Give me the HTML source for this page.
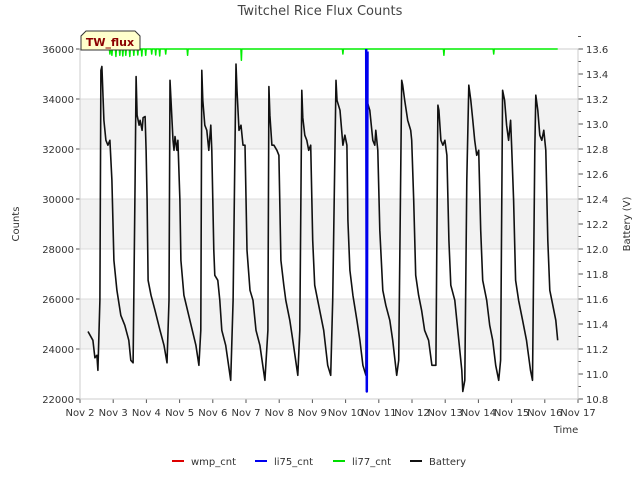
<!DOCTYPE html>
<html><head><meta charset="utf-8"><style>
body{margin:0;background:#fff;font-family:"Liberation Sans","DejaVu Sans",sans-serif}
svg text{font-family:"DejaVu Sans","Liberation Sans",sans-serif}
</style></head><body>
<svg id="c" width="640" height="480" viewBox="0 0 640 480" xmlns="http://www.w3.org/2000/svg"></svg>
<script>
const xTicks=[2,3,4,5,6,7,8,9,10,11,12,13,14,15,16,17];
const xLabels=["Nov 2","Nov 3","Nov 4","Nov 5","Nov 6","Nov 7","Nov 8","Nov 9","Nov 10","Nov 11","Nov 12","Nov 13","Nov 14","Nov 15","Nov 16","Nov 17"];
const leftTicks=[22000,24000,26000,28000,30000,32000,34000,36000];
const rightTicks=[10.8,11.0,11.2,11.4,11.6,11.8,12.0,12.2,12.4,12.6,12.8,13.0,13.2,13.4,13.6];
const batDays=[2.24,2.39,2.45,2.51,2.54,2.60,2.63,2.66,2.72,2.78,2.84,2.90,2.96,3.02,3.11,3.23,3.35,3.47,3.53,3.60,3.66,3.69,
3.72,3.78,3.81,3.87,3.90,3.96,3.99,4.02,4.05,4.14,4.26,4.41,4.53,4.62,4.68,4.71,
4.74,4.80,4.83,4.86,4.92,4.95,5.01,5.04,5.13,5.31,5.49,5.58,5.64,5.67,
5.70,5.76,5.82,5.88,5.94,5.97,6.03,6.06,6.15,6.21,6.27,6.39,6.54,6.61,6.70,
6.73,6.79,6.85,6.91,6.97,7.03,7.12,7.21,7.30,7.42,7.57,7.66,7.69,
7.72,7.78,7.84,7.93,7.99,8.05,8.14,8.20,8.32,8.41,8.56,8.62,8.68,
8.71,8.77,8.83,8.89,8.95,9.01,9.07,9.16,9.25,9.34,9.46,9.55,9.61,9.71,
9.74,9.83,9.92,9.98,10.04,10.07,10.13,10.22,10.34,10.43,10.52,10.61,10.64,
10.73,10.82,10.88,10.91,10.97,11.03,11.12,11.21,11.33,11.42,11.54,11.60,11.69,
11.72,11.78,11.87,11.96,11.99,12.05,12.11,12.20,12.29,12.38,12.50,12.60,12.72,12.78,
12.81,12.87,12.93,12.99,13.05,13.11,13.17,13.29,13.38,13.44,13.50,13.53,13.59,13.65,13.71,
13.77,13.83,13.89,13.95,14.01,14.07,14.13,14.25,14.34,14.43,14.52,14.61,14.67,14.73,
14.79,14.85,14.91,14.97,15.00,15.06,15.12,15.21,15.33,15.45,15.57,15.63,15.70,15.73,
15.79,15.85,15.91,15.97,16.03,16.09,16.15,16.24,16.33,16.39];
const batVolts=[11.34,11.27,11.13,11.15,11.03,11.59,13.43,13.46,13.03,12.87,12.83,12.87,12.55,11.91,11.67,11.47,11.39,11.27,11.11,11.09,12.55,13.38,
13.07,12.99,13.03,12.95,13.05,13.06,12.79,12.39,11.75,11.63,11.51,11.35,11.23,11.09,11.59,13.35,
13.19,12.87,12.79,12.90,12.79,12.87,12.39,11.91,11.63,11.43,11.23,11.07,11.35,13.43,
13.19,12.99,12.95,12.79,12.99,12.79,11.99,11.79,11.75,11.59,11.35,11.23,10.95,11.59,13.48,
13.27,12.95,12.99,12.83,12.83,11.99,11.67,11.59,11.35,11.23,10.95,11.35,13.30,
13.07,12.83,12.83,12.79,12.75,11.91,11.71,11.59,11.43,11.27,10.99,11.35,13.27,
13.05,12.91,12.87,12.79,12.83,12.07,11.71,11.59,11.47,11.35,11.07,10.99,11.59,13.35,
13.19,13.11,12.83,12.91,12.83,12.23,11.83,11.63,11.43,11.27,11.07,10.99,13.19,
13.11,12.87,12.83,12.95,12.79,12.15,11.67,11.55,11.43,11.27,10.99,11.11,13.35,
13.31,13.19,13.03,12.95,12.87,12.39,11.79,11.63,11.51,11.35,11.27,11.07,11.07,13.15,
13.11,12.87,12.83,12.87,12.75,12.07,11.71,11.59,11.35,11.19,11.03,10.86,10.95,12.55,13.31,
13.19,13.03,12.87,12.75,12.79,12.15,11.75,11.59,11.39,11.27,11.07,10.95,11.11,13.27,
13.19,12.99,12.87,13.03,12.83,12.39,11.75,11.59,11.43,11.27,11.03,10.95,12.79,13.23,
13.11,12.91,12.87,12.95,12.79,12.07,11.67,11.55,11.43,11.27];
const li77DipDays=[2.90,2.96,3.08,3.20,3.29,3.38,3.50,3.62,3.74,3.86,3.98,4.16,4.28,4.40,4.58,5.24,6.86,9.92,12.96,14.46];
const li77DipVals=[35800,35750,35700,35750,35720,35750,35700,35750,35760,35720,35750,35800,35760,35720,35800,35750,35550,35800,35750,35800];
const li77Start=2.84, li77End=16.39, li77Base=36000;
const li75Days=[10.62,10.64,10.66];
const li75Vals=[36000,22300,35900];

const NS="http://www.w3.org/2000/svg";
const svg=document.getElementById('c');
const X0=80,X1=578,YT=49,YB=399;
const xs=d=>X0+(d-2)/(17-2)*(X1-X0);
const yl=v=>YB-(v-22000)/(36000-22000)*(YB-YT);
const yr=v=>YB-(v-10.8)/(13.6-10.8)*(YB-YT);
function el(t,a,p){const e=document.createElementNS(NS,t);for(const k in a)e.setAttribute(k,a[k]);(p||svg).appendChild(e);return e;}

[[24000,26000],[28000,30000],[32000,34000]].forEach(b=>{
 const r=el('rect',{x:X0,y:yl(b[1]),width:X1-X0,height:yl(b[0])-yl(b[1]),fill:'#f2f2f2'});
 
 
});
leftTicks.forEach(v=>{
 el('line',{x1:X0,x2:X1,y1:yl(v),y2:yl(v),stroke:'#dcdcdc','stroke-width':1});
 el('line',{x1:X0-4,x2:X0,y1:yl(v),y2:yl(v),stroke:'#555'});
 const t=el('text',{x:X0-6,y:yl(v)+4,'text-anchor':'end','font-size':10,fill:'#333'});t.textContent=v;
 
 
});
rightTicks.forEach((v,i)=>{
 el('line',{x1:X1,x2:X1+5,y1:yr(v),y2:yr(v),stroke:'#555'});
 el('line',{x1:X1,x2:X1+3,y1:yr(v+0.1),y2:yr(v+0.1),stroke:'#555'});
 const t=el('text',{x:X1+8,y:yr(v)+4,'font-size':10,fill:'#333'});t.textContent=v.toFixed(1);
 
 
});
xTicks.forEach((d,i)=>{
 el('line',{x1:xs(d),x2:xs(d),y1:YB,y2:YB+4,stroke:'#555'});
 const t=el('text',{x:xs(d),y:YB+17,'text-anchor':'middle','font-size':10,fill:'#333'});t.textContent=xLabels[i];
 
 
});
el('rect',{x:X0,y:YT,width:X1-X0,height:YB-YT,fill:'none',stroke:'#ccc'});

function line(days,vals,fy,col,w,name){
 const p=el('polyline',{points:days.map((d,i)=>xs(d).toFixed(1)+','+fy(vals[i]).toFixed(1)).join(' '),fill:'none',stroke:col,'stroke-width':w,'stroke-linejoin':'round'});
 
 
}
// li77: baseline with narrow dips
const gD=[li77Start], gV=[li77Base];
li77DipDays.forEach((d,i)=>{gD.push(d-0.015,d,d+0.015);gV.push(li77Base,li77DipVals[i],li77Base);});
gD.push(li77End);gV.push(li77Base);
line(gD,gV,yl,'#00ee00',1.5,'li77-line');
line(batDays,batVolts,yr,'#111',1.6,'battery-line');
line(li75Days,li75Vals,yl,'#0000ee',2.5,'li75-line');

function txt(s,a,name){const t=el('text',a);t.textContent=s;return t;}
txt('Twitchel Rice Flux Counts',{x:320,y:15,'text-anchor':'middle','font-size':13,fill:'#444'},'chart-title');
txt('Counts',{x:19,y:224,'text-anchor':'middle','font-size':10,fill:'#333',transform:'rotate(-90 19 224)'},'y-axis-title');
txt('Battery (V)',{x:630,y:224,'text-anchor':'middle','font-size':10,fill:'#333',transform:'rotate(-90 630 224)'},'y2-axis-title');
txt('Time',{x:566,y:433,'text-anchor':'middle','font-size':10,fill:'#333'},'x-axis-title');

const bx=el('path',{d:'M81 50 L81 36 L86 31 L135 31 L140 36 L140 50 Z',fill:'#ffffcc',stroke:'#333','stroke-width':1});


txt('TW_flux',{x:110,y:46,'text-anchor':'middle','font-size':11,'font-weight':'bold',fill:'#8b0000'},'site-label');

const leg=[['wmp_cnt','#dd0000',172],['li75_cnt','#0000ee',255],['li77_cnt','#00dd00',333],['Battery','#111',410]];
leg.forEach(l=>{
 const g=el('g',{});
 
 
 el('line',{x1:l[2],x2:l[2]+12,y1:461,y2:461,stroke:l[1],'stroke-width':2},g);
 const t=el('text',{x:l[2]+19,y:465,'font-size':10,fill:'#333'},g);t.textContent=l[0];
});
</script>
</body></html>
